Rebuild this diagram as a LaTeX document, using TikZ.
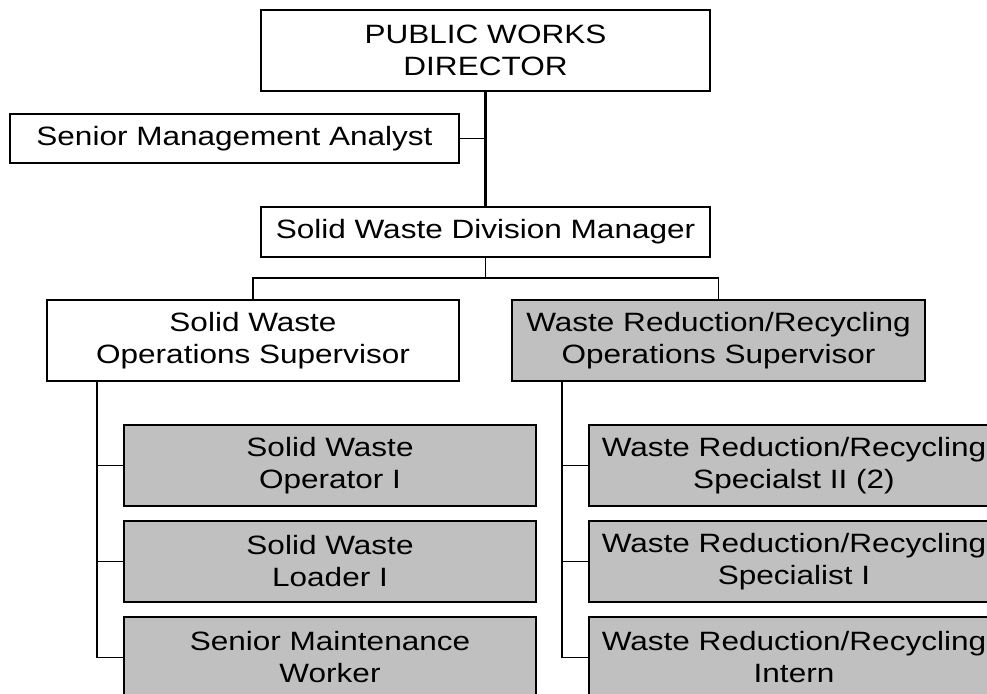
\documentclass[tikz,border=0pt]{standalone}
\usepackage{fontspec}
\setmainfont[FakeStretch=1.19]{Liberation Sans}
\definecolor{boxgray}{HTML}{C0C0C0}
\begin{document}
\begin{tikzpicture}[x=1pt,y=-1pt,
  orgbox/.style={draw=black, line width=2pt, inner sep=0pt, align=center,
    font=\fontsize{26.5}{32}\selectfont},
  wbox/.style={orgbox, fill=white},
  gbox/.style={orgbox, fill=boxgray},
  link/.style={draw=black, line width=1.8pt}]
\useasboundingbox (0,0) rectangle (987,693);
\clip (0,0) rectangle (987,693);
\fill[white] (0,0) rectangle (987,693);

\node[wbox, minimum width=449pt, minimum height=81pt] (dir) at (485.5,50.5) {PUBLIC WORKS\\DIRECTOR};
\node[wbox, minimum width=449pt, minimum height=49pt] (sma) at (234.5,138.5) {Senior Management Analyst};
\node[wbox, minimum width=449pt, minimum height=50pt] (swdm) at (485.5,232) {Solid Waste Division Manager};
\node[wbox, minimum width=412pt, minimum height=81pt] (swos) at (253,340.5) {Solid Waste\\Operations Supervisor};
\node[gbox, minimum width=413pt, minimum height=81pt] (wros) at (718.5,340.5) {Waste Reduction/Recycling\\Operations Supervisor};

\node[gbox, minimum width=412pt, minimum height=81pt] (l1) at (330,465.5) {Solid Waste\\Operator I};
\node[gbox, minimum width=412pt, minimum height=81pt] (l2) at (330,561.5) {Solid Waste\\Loader I};
\node[gbox, minimum width=412pt, minimum height=81pt] (l3) at (330,657.5) {Senior Maintenance\\Worker};

\node[gbox, minimum width=410pt, minimum height=81pt] (r1) at (794,465.5) {Waste Reduction/Recycling\\Specialst II (2)};
\node[gbox, minimum width=410pt, minimum height=81pt] (r2) at (794,561.5) {Waste Reduction/Recycling\\Specialist I};
\node[gbox, minimum width=410pt, minimum height=81pt] (r3) at (794,657.5) {Waste Reduction/Recycling\\Intern};

\draw[link, line width=2.4pt] (dir.south) -- (swdm.north);
\draw[link] (sma.east) -- (dir.south |- sma.east);
\coordinate (bus) at (485.5,278);
\draw[link] (swdm.south) -- (bus);
\draw[link] (swos.north) |- (bus) -| (wros.north);

\coordinate (lt) at ([xshift=51pt]swos.south west);
\draw[link] (lt) |- (l3.west);
\draw[link] (lt |- l1.west) -- (l1.west);
\draw[link] (lt |- l2.west) -- (l2.west);

\coordinate (rt) at ([xshift=51pt]wros.south west);
\draw[link] (rt) |- (r3.west);
\draw[link] (rt |- r1.west) -- (r1.west);
\draw[link] (rt |- r2.west) -- (r2.west);
\end{tikzpicture}
\end{document}
